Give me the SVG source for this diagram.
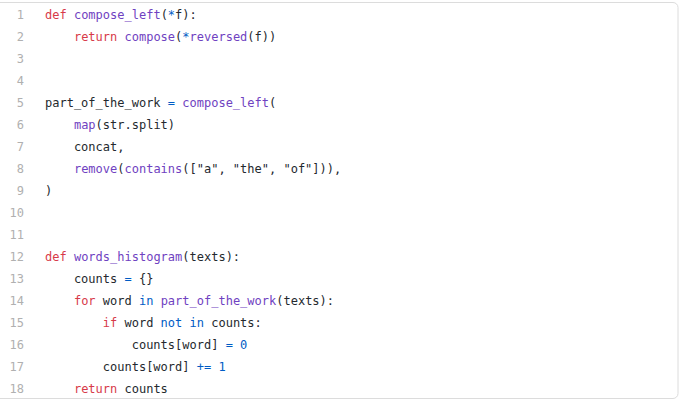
<svg xmlns="http://www.w3.org/2000/svg" width="680" height="400" viewBox="0 0 680 400">
<style>
text{font-family:"DejaVu Sans Mono",monospace;font-size:12px;fill:#24292e;white-space:pre}
.n{fill:#b0b0b0;text-anchor:end}
.k{fill:#d73a49}.f{fill:#6f42c1}.o{fill:#005cc5}
</style>
<rect x="-6" y="2.5" width="684" height="396" rx="5" fill="#fff" stroke="#dcdcdc"/>
<g id="gutter">
<text class="n" x="24" y="19">1</text><text class="n" x="24" y="41">2</text><text class="n" x="24" y="63">3</text><text class="n" x="24" y="85">4</text><text class="n" x="24" y="107">5</text><text class="n" x="24" y="129">6</text><text class="n" x="24" y="151">7</text><text class="n" x="24" y="173">8</text><text class="n" x="24" y="195">9</text><text class="n" x="24" y="217">10</text><text class="n" x="24" y="239">11</text><text class="n" x="24" y="261">12</text><text class="n" x="24" y="283">13</text><text class="n" x="24" y="305">14</text><text class="n" x="24" y="327">15</text><text class="n" x="24" y="349">16</text><text class="n" x="24" y="371">17</text><text class="n" x="24" y="393">18</text>
</g>
<g id="code">
<text x="45" y="19"><tspan class="k">def</tspan> <tspan class="f">compose_left</tspan>(<tspan class="o">*</tspan>f):</text>
<text x="45" y="41">    <tspan class="k">return</tspan> <tspan class="f">compose</tspan>(<tspan class="o">*</tspan><tspan class="f">reversed</tspan>(f))</text>
<text x="45" y="107">part_of_the_work <tspan class="o">=</tspan> <tspan class="f">compose_left</tspan>(</text>
<text x="45" y="129">    <tspan class="f">map</tspan>(str.split)</text>
<text x="45" y="151">    concat,</text>
<text x="45" y="173">    <tspan class="f">remove</tspan>(<tspan class="f">contains</tspan>(["a", "the", "of"])),</text>
<text x="45" y="195">)</text>
<text x="45" y="261"><tspan class="k">def</tspan> <tspan class="f">words_histogram</tspan>(texts):</text>
<text x="45" y="283">    counts <tspan class="o">=</tspan> {}</text>
<text x="45" y="305">    <tspan class="k">for</tspan> word <tspan class="o">in</tspan> <tspan class="f">part_of_the_work</tspan>(texts):</text>
<text x="45" y="327">        <tspan class="k">if</tspan> word <tspan class="o">not</tspan> <tspan class="o">in</tspan> counts:</text>
<text x="45" y="349">            counts[word] <tspan class="o">=</tspan> <tspan class="o">0</tspan></text>
<text x="45" y="371">        counts[word] <tspan class="o">+=</tspan> <tspan class="o">1</tspan></text>
<text x="45" y="393">    <tspan class="k">return</tspan> counts</text>
</g>
</svg>
